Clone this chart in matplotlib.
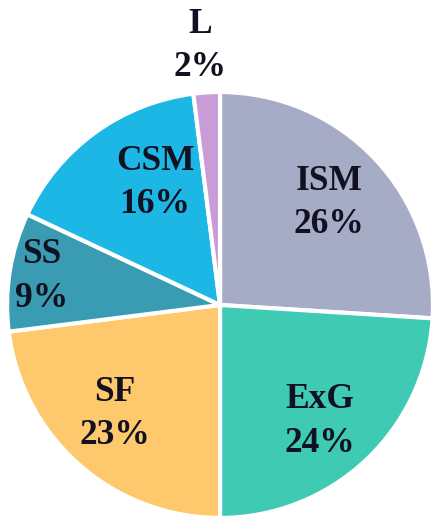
import numpy as np
import matplotlib
matplotlib.use('Agg')
import matplotlib.pyplot as plt

# Dados do gráfico
categorias = ['ISM', 'ExG', 'SF', 'SS', 'CSM', 'L']
valores = [26, 24, 23, 9, 16, 2]
cores = ['#a6acc5', '#3ecab3', '#fdc96c', '#3a9cb2', '#1db7e6', '#c99bd7']
# posição dos rótulos: raio relativo e desvio angular (graus)
dist_rotulo = [0.70, 0.72, 0.71, 0.85, 0.65, 1.22]
desvio_ang = [0, -2.7, -2.5, 0, -8, 0.8]

fig = plt.figure(figsize=(4.37, 5.2), dpi=100)
ax = fig.add_axes([0.016, 0.004, 0.975, 0.819])

wedges, _ = ax.pie(valores, colors=cores, startangle=90, counterclock=False,
                   wedgeprops=dict(edgecolor='white', linewidth=3))

for w, nome, v, d, da in zip(wedges, categorias, valores, dist_rotulo, desvio_ang):
    ang = np.deg2rad((w.theta1 + w.theta2) / 2 + da)
    ax.text(d * np.cos(ang), d * np.sin(ang), f"{nome}\n{v}%",
            ha='center', va='center', fontsize=25.5, fontweight='bold',
            family='Liberation Serif', color='#111122', linespacing=1.42)

ax.set_xlim(-1, 1)
ax.set_ylim(-1, 1)
ax.set_aspect('equal')

plt.savefig('out.png', dpi=100)
plt.close(fig)
